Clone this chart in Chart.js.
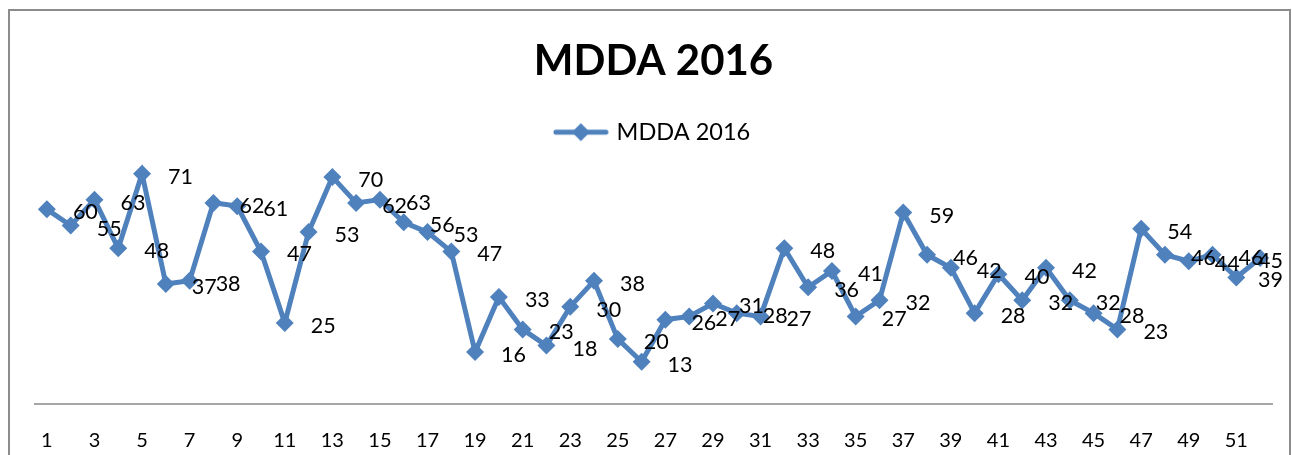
<!DOCTYPE html>
<html>
<head>
<meta charset="utf-8">
<script src="https://cdn.jsdelivr.net/npm/chart.js@4"></script>
<style>
  html, body { margin: 0; padding: 0; background: #fff; }
  #wrap { position: absolute; left: 0; top: 0; width: 1292px; height: 455px; }
</style>
</head>
<body>
<div id="wrap"><canvas id="lineChart"></canvas></div>
<script>
const weeks = [];
for (let w = 1; w <= 52; w++) weeks.push(String(w));

const mdda2016 = [60, 55, 63, 48, 71, 37, 38, 62, 61, 47,
                  25, 53, 70, 62, 63, 56, 53, 47, 16, 33,
                  23, 18, 30, 38, 20, 13, 26, 27, 31, 28,
                  27, 48, 36, 41, 27, 32, 59, 46, 42, 28,
                  40, 32, 42, 32, 28, 23, 54, 46, 44, 46,
                  39, 45];

const seriesName = 'MDDA 2016';
const blue = '#4F81BD';

// legend symbol: short line with a diamond in the middle
const legendIcon = document.createElement('canvas');
legendIcon.width = 56; legendIcon.height = 20;
(function () {
  const c = legendIcon.getContext('2d');
  c.strokeStyle = blue; c.lineWidth = 5; c.lineCap = 'round';
  c.beginPath(); c.moveTo(3, 10); c.lineTo(53, 10); c.stroke();
  c.fillStyle = blue;
  c.beginPath(); c.moveTo(28, 1); c.lineTo(37, 10); c.lineTo(28, 19); c.lineTo(19, 10); c.closePath(); c.fill();
})();

const frame = {
  id: 'frame',
  beforeDraw(chart) {
    const c = chart.ctx;
    c.save();
    c.strokeStyle = '#8c8c8c';
    c.lineWidth = 2;
    c.strokeRect(9, 10, 1281, 470);
    c.restore();
  }
};

const pointLabels = {
  id: 'pointLabels',
  afterDatasetsDraw(chart) {
    const c = chart.ctx;
    const meta = chart.getDatasetMeta(0);
    c.save();
    c.font = '21.5px Lato';
    c.fillStyle = '#000';
    c.textAlign = 'left';
    c.textBaseline = 'middle';
    meta.data.forEach((pt, i) => {
      const txt = String(mdda2016[i]);
      const w = c.measureText(txt).width;
      const x = Math.min(pt.x + 26, 1283 - w);
      c.fillText(txt, x, pt.y + 3);
    });
    c.restore();
  }
};

const ctx = document.getElementById('lineChart').getContext('2d');

let lineChart = new Chart(ctx, {
  type: 'line',
  data: {
    labels: weeks,
    datasets: [{
      label: seriesName,
      data: mdda2016,
      borderColor: blue,
      backgroundColor: blue,
      borderWidth: 5,
      pointStyle: 'rectRot',
      pointRadius: 9,
      pointHoverRadius: 9,
      pointBorderWidth: 0,
      tension: 0
    }]
  },
  options: {
    responsive: true,
    maintainAspectRatio: false,
    animation: false,
    layout: { padding: { left: 35, right: 20, top: 10, bottom: 0 } },
    plugins: {
      title: {
        display: true,
        text: seriesName,
        color: '#000',
        font: { family: 'Lato', size: 42, weight: 'bold' },
        padding: { top: 26, bottom: 29 }
      },
      legend: {
        display: true,
        labels: {
          color: '#000',
          padding: 5,
          font: { family: 'Lato', size: 23.5 },
          usePointStyle: true,
          pointStyleWidth: 48,
          generateLabels: () => [{ text: seriesName, pointStyle: legendIcon, fillStyle: blue, strokeStyle: blue, lineWidth: 0 }]
        }
      },
      tooltip: { enabled: false }
    },
    scales: {
      x: {
        offset: true,
        grid: { display: false, drawTicks: false },
        border: { display: true, color: '#a6a6a6', width: 2 },
        afterFit: (scale) => { scale.height = 51; },
        ticks: {
          autoSkip: false,
          maxRotation: 0,
          padding: 25,
          color: '#000',
          font: { family: 'Lato', size: 20 },
          callback: (v, i) => (i % 2 === 0 ? weeks[i] : '')
        }
      },
      y: {
        display: false,
        min: 0,
        max: 77.1
      }
    }
  },
  plugins: [frame, pointLabels]
});
</script>
</body>
</html>
